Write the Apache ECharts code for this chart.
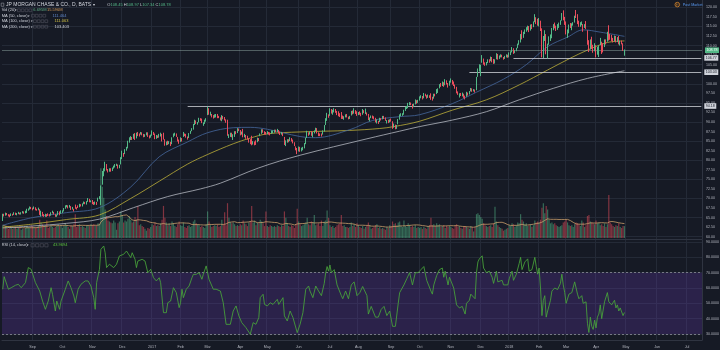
<!DOCTYPE html>
<html><head><meta charset="utf-8">
<script src="https://cdn.jsdelivr.net/npm/echarts@6/dist/echarts.min.js"></script>
<style>html,body{margin:0;padding:0;background:#161a25}#c{width:720px;height:350px}</style>
</head><body><div id="c"></div><script>
// ---- DATA (daily bars, Aug 3 2016 .. Apr 30 2018), each candle = [open, close, low, high]
const candles = [
// 2016-08
[64.3,65.8,64.1,66.0],[65.8,65.6,65.3,66.0],[65.7,66.0,65.5,66.3],[66.0,65.8,65.6,66.2],[65.8,65.5,65.3,65.9],[65.5,65.4,65.1,65.8],[65.5,65.9,65.4,66.1],[65.9,65.7,65.5,66.0],[65.8,66.2,65.7,66.4],[66.1,65.9,65.7,66.3],[65.9,66.0,65.6,66.2],[66.0,66.3,65.9,66.5],[66.2,66.0,65.8,66.3],[66.0,66.2,65.8,66.4],[66.3,66.4,66.1,66.7],[66.4,66.3,66.0,66.6],[66.3,66.5,66.1,66.8],[66.5,66.9,66.2,67.3],[66.9,67.2,66.8,67.4],[67.2,67.6,67.1,67.9],[67.6,67.5,67.2,67.8],
// 2016-09
[67.5,67.3,66.9,67.6],[67.4,67.6,67.2,67.9],[67.6,67.2,66.9,67.7],[67.2,67.0,66.8,67.3],[67.0,67.4,66.9,67.6],[67.1,65.8,65.7,67.2],[65.6,66.6,65.3,66.8],[66.4,65.6,65.4,66.5],[65.7,65.4,65.2,65.9],[65.4,65.9,65.2,66.0],[65.7,65.5,65.2,65.9],[65.7,65.6,65.4,66.1],[65.7,65.5,65.3,65.9],[65.7,66.2,65.5,66.4],[66.3,66.5,66.1,66.8],[66.4,66.0,65.8,66.5],[65.8,65.4,65.2,65.9],[65.4,65.6,65.2,65.8],[65.7,66.5,65.6,66.7],[66.4,65.9,65.6,66.6],[66.1,66.6,66.0,66.9],
// 2016-10
[66.5,66.6,66.2,66.9],[66.7,67.3,66.6,67.5],[67.4,68.0,67.3,68.2],[68.0,68.1,67.7,68.3],[68.1,67.6,67.4,68.2],[67.8,68.0,67.6,68.3],[67.9,67.2,67.0,68.0],[67.3,67.6,67.1,67.8],[67.2,67.0,66.6,67.3],[67.9,67.6,67.3,68.4],[67.5,67.3,67.1,67.7],[67.8,67.7,67.5,68.2],[67.8,68.4,67.7,68.6],[68.3,68.2,67.9,68.5],[68.1,68.5,67.9,68.7],[68.7,69.0,68.5,69.2],[69.0,68.7,68.5,69.1],[68.6,69.1,68.4,69.3],[69.2,69.6,69.1,70.1],[69.6,69.2,69.0,69.9],[69.3,69.3,69.0,69.5],
// 2016-11
[69.4,68.9,68.5,69.6],[68.9,68.6,68.3,69.1],[68.7,68.9,68.4,69.2],[68.9,68.6,68.3,69.1],[69.4,70.1,69.2,70.2],[70.0,70.3,69.8,70.6],[68.5,73.0,68.3,73.4],[73.8,76.0,73.6,77.2],[76.2,77.0,75.8,77.9],[77.4,78.9,77.1,79.6],[78.8,77.7,77.3,79.0],[77.5,77.2,76.8,77.7],[77.3,77.6,77.0,77.9],[77.7,77.4,77.0,77.9],[77.5,77.8,77.2,78.1],[78.0,78.3,77.8,78.6],[78.3,78.7,78.1,79.0],[78.8,78.9,78.5,79.1],[78.7,78.1,77.8,78.9],[78.2,78.6,77.9,78.8],[79.0,80.2,78.9,80.8],
// 2016-12
[80.5,81.9,80.3,82.5],[81.6,81.4,80.9,81.9],[81.8,82.6,81.6,82.9],[82.8,83.3,82.5,83.5],[83.3,84.9,83.1,85.1],[85.0,85.6,84.6,86.0],[85.7,86.1,85.3,86.3],[85.9,85.6,85.3,86.1],[85.8,86.5,85.6,86.9],[86.3,85.7,85.3,87.1],[85.9,86.8,85.7,87.2],[87.0,86.7,86.3,87.4],[86.7,86.6,86.2,87.0],[86.9,87.2,86.7,87.4],[87.1,86.8,86.5,87.3],[86.8,86.4,86.0,86.9],[86.4,86.6,86.1,86.8],[86.7,87.0,86.5,87.3],[87.1,86.3,86.1,87.3],[86.3,86.0,85.7,86.5],[86.1,86.3,85.9,86.7],
// 2017-01
[86.9,87.2,86.4,87.8],[87.3,87.0,86.6,87.4],[86.9,85.9,85.5,87.0],[86.0,86.3,85.6,86.6],[86.2,86.1,85.8,86.5],[86.0,86.6,85.9,86.9],[86.6,87.0,86.2,87.2],[86.8,85.5,84.9,86.9],[86.2,86.0,85.4,87.2],[85.4,84.0,83.8,85.5],[84.3,84.6,83.9,84.9],[84.7,84.3,84.0,85.1],[84.6,84.7,84.2,85.0],[84.5,84.1,83.7,84.8],[84.3,85.9,84.2,86.0],[86.2,86.8,86.0,87.0],[86.8,86.8,86.4,87.2],[86.8,86.4,86.1,87.0],[86.0,85.6,84.9,86.1],[85.3,84.6,84.3,85.4],
// 2017-02
[85.3,85.5,84.8,86.0],[85.4,85.4,84.9,85.8],[86.3,87.2,86.1,87.4],[86.9,86.6,86.3,87.0],[86.7,86.2,85.9,86.9],[86.0,85.7,85.4,86.2],[86.0,86.9,85.8,87.1],[87.1,87.5,86.9,87.7],[87.8,88.1,87.6,88.4],[88.2,89.3,88.0,89.5],[89.4,90.4,89.2,90.6],[90.3,89.9,89.5,90.4],[89.7,89.8,89.3,90.0],[90.1,90.9,89.9,91.1],[90.8,90.6,90.3,91.0],[90.7,90.0,89.7,90.9],[89.6,89.7,89.0,89.9],[89.7,90.4,89.5,90.6],[90.5,90.6,90.1,91.0],
// 2017-03
[91.9,93.4,91.8,94.0],[93.4,92.1,91.9,93.6],[92.2,92.4,91.7,92.7],[92.0,91.6,91.2,92.1],[91.6,91.3,90.9,91.8],[91.4,91.6,91.1,92.0],[91.6,91.7,91.2,92.1],[91.9,91.3,91.0,92.1],[91.4,91.3,91.0,91.6],[91.0,90.8,90.4,91.2],[90.9,91.2,90.2,91.8],[91.4,91.0,90.7,91.6],[91.1,90.6,90.4,91.3],[90.5,90.1,89.8,90.7],[90.4,86.6,86.4,90.6],[86.3,86.4,85.8,86.8],[86.5,86.7,86.1,87.2],[86.9,86.4,86.0,87.2],[85.6,86.5,85.3,86.8],[86.4,87.3,86.1,87.6],[87.3,87.1,86.8,87.6],[87.2,88.2,87.1,88.4],[88.1,87.8,87.6,88.3],
// 2017-04
[87.8,87.1,86.5,87.9],[86.9,87.3,86.7,87.5],[87.6,86.2,86.0,88.2],[86.3,86.6,86.0,86.9],[86.2,86.0,85.6,86.6],[86.1,85.8,85.4,86.4],[85.4,85.4,84.6,85.7],[85.3,84.5,84.2,85.5],[85.3,84.1,83.9,86.4],[84.3,84.8,84.1,85.0],[84.5,84.5,83.9,84.9],[84.8,84.4,84.0,85.2],[84.9,85.6,84.7,85.9],[85.6,85.3,85.0,85.8],[86.6,86.8,86.3,87.0],[87.0,87.9,86.9,88.1],[87.8,87.4,87.2,88.1],[87.4,87.1,86.7,87.6],[87.3,87.0,86.7,87.4],
// 2017-05
[87.2,87.3,86.8,87.6],[87.3,87.1,86.7,87.4],[87.1,86.9,86.5,87.3],[87.2,87.4,86.9,87.8],[87.4,87.6,87.1,87.8],[87.5,87.7,87.2,88.0],[87.8,87.7,87.3,88.0],[87.6,88.0,87.4,88.2],[87.8,87.4,87.0,87.9],[87.3,86.9,86.6,87.5],[87.0,87.1,86.7,87.4],[87.1,86.5,86.3,87.2],[86.0,84.2,84.0,86.1],[84.0,84.9,83.7,85.2],[85.0,85.1,84.6,85.5],[85.3,85.0,84.7,85.5],[85.2,85.8,85.0,86.0],[85.7,85.2,84.9,85.8],[85.3,84.7,84.4,85.4],[84.6,83.9,83.7,84.7],[83.5,82.9,82.6,83.6],[83.0,82.2,81.6,83.2],
// 2017-06
[82.4,83.5,82.3,83.6],[83.4,82.4,82.2,83.5],[82.5,83.0,82.3,83.3],[82.9,83.2,82.6,83.5],[83.3,84.2,83.1,84.5],[84.3,85.6,84.2,85.9],[86.0,87.2,85.8,87.7],[87.0,86.9,86.4,87.3],[87.0,87.3,86.7,87.5],[87.4,86.8,86.4,87.6],[86.5,87.2,86.0,87.4],[87.2,87.6,87.0,87.8],[87.8,88.3,87.6,88.5],[88.2,87.2,87.0,88.4],[87.1,86.6,86.3,87.3],[86.7,86.6,86.3,87.0],[86.8,86.5,86.2,87.0],[86.9,87.4,86.7,87.8],[87.6,88.9,87.5,89.2],[89.3,90.8,89.2,91.0],[91.0,91.8,90.3,92.4],[91.9,91.4,91.1,92.0],
// 2017-07
[91.7,93.1,91.6,93.6],[93.2,92.6,92.2,93.4],[92.3,92.6,91.9,93.2],[92.8,93.3,92.5,93.6],[93.2,92.8,92.4,93.4],[92.7,92.2,91.8,92.9],[92.4,91.9,91.5,92.8],[92.0,91.6,91.3,92.3],[92.3,91.4,90.8,92.6],[91.3,91.1,90.8,91.7],[90.9,91.3,90.6,91.5],[91.4,91.8,91.2,92.0],[91.9,91.5,91.2,92.1],[91.2,91.0,90.7,91.4],[91.0,91.4,90.8,91.6],[91.8,92.7,91.7,92.9],[92.8,92.3,92.0,93.0],[92.4,93.1,92.2,93.6],[92.8,92.5,92.1,93.1],[92.6,91.8,91.6,92.8],
// 2017-08
[92.0,92.4,91.8,92.6],[92.5,92.3,91.9,92.8],[92.2,91.7,91.5,92.4],[92.1,93.0,91.9,93.4],[92.9,92.6,92.3,93.1],[92.6,92.9,92.1,93.5],[92.3,92.2,91.7,92.5],[92.0,90.6,90.5,92.1],[90.7,90.7,90.2,91.2],[91.2,91.4,91.0,91.7],[91.5,91.2,90.9,91.7],[91.3,91.0,90.7,91.5],[90.9,90.0,89.9,91.1],[90.0,90.2,89.6,90.7],[90.2,89.9,89.5,90.3],[90.1,90.9,90.0,91.1],[90.8,90.7,90.4,91.0],[90.9,91.3,90.7,91.6],[91.4,91.1,90.8,91.6],[91.0,90.6,90.3,91.2],[90.2,90.3,89.6,90.5],[90.4,90.0,89.7,90.6],[90.2,90.4,89.9,90.7],
// 2017-09
[90.6,90.5,90.1,90.9],[90.1,88.5,88.2,90.2],[88.8,89.2,88.5,89.6],[89.1,88.4,88.1,89.3],[88.5,88.8,88.2,89.2],[89.5,90.6,89.4,90.8],[90.8,91.8,90.6,92.0],[91.8,92.0,91.5,92.3],[92.0,92.0,91.6,92.3],[92.3,93.0,91.9,93.2],[93.1,93.7,92.9,94.0],[93.8,93.8,93.4,94.2],[93.8,94.8,93.6,95.0],[94.8,95.0,94.4,95.2],[94.8,94.6,94.4,95.1],[94.5,93.9,93.5,94.7],[94.1,94.5,93.9,94.8],[94.8,95.6,94.6,95.9],[95.5,95.2,94.8,95.7],[95.3,95.5,95.0,95.8],
// 2017-10
[95.8,96.5,95.6,96.7],[96.6,96.7,96.2,97.0],[96.6,96.2,95.9,96.8],[96.4,97.4,96.2,97.6],[97.2,97.0,96.7,97.4],[96.8,96.4,96.1,97.0],[96.6,96.9,96.3,97.2],[96.8,96.7,96.3,97.0],[97.3,96.1,95.8,97.5],[96.4,95.9,95.6,96.6],[96.3,97.2,96.1,97.4],[97.2,97.1,96.7,97.4],[97.4,98.4,97.3,98.6],[98.0,98.6,97.6,98.8],[99.0,99.6,98.8,99.9],[99.8,99.5,99.2,100.2],[99.6,100.3,99.4,100.6],[100.2,99.7,99.2,100.4],[99.9,100.6,99.6,101.2],[100.6,100.1,99.8,100.9],[100.0,99.3,99.0,100.2],[99.6,100.6,99.5,100.8],
// 2017-11
[100.8,100.9,100.3,101.4],[100.7,100.3,99.8,101.0],[100.4,99.7,99.4,100.6],[99.6,99.1,98.7,99.8],[99.0,97.8,97.5,99.2],[97.7,97.6,97.1,98.0],[97.0,97.2,96.4,97.5],[97.3,97.1,96.8,97.6],[96.9,97.5,96.7,97.7],[97.2,96.8,96.3,97.4],[96.5,96.4,95.9,96.9],[96.8,97.6,96.6,97.9],[97.5,97.2,96.9,97.7],[97.4,97.9,97.2,98.1],[98.2,98.7,98.0,98.9],[98.5,98.1,97.9,98.8],[98.2,98.4,98.0,98.6],[98.3,98.0,97.7,98.5],[98.5,101.6,98.3,101.8],[102.0,103.5,101.8,104.0],[104.0,104.5,103.2,105.1],
// 2017-12
[103.9,104.5,102.0,105.0],[106.0,106.4,105.5,107.5],[106.2,105.4,105.0,106.6],[105.3,105.1,104.7,105.6],[105.0,105.3,104.8,105.7],[105.6,106.2,105.4,106.4],[106.2,105.9,105.5,106.4],[106.0,106.8,105.9,107.1],[106.8,105.9,105.6,107.0],[106.1,105.6,105.2,106.5],[105.8,106.1,105.3,106.4],[106.6,107.6,106.4,108.0],[107.5,106.6,106.3,107.8],[106.9,107.0,106.5,107.4],[107.1,107.4,106.9,107.7],[107.4,107.1,106.9,107.6],[106.8,106.7,106.3,107.0],[106.7,107.0,106.5,107.3],[107.1,107.5,106.9,107.7],[107.4,106.9,106.8,107.6],
// 2018-01
[107.6,108.0,106.9,108.2],[108.0,108.1,107.5,108.5],[108.3,109.0,108.2,109.6],[109.2,108.3,107.8,109.3],[108.2,108.5,108.0,108.8],[108.9,109.1,108.5,109.4],[109.4,110.3,109.3,110.5],[110.3,111.2,110.2,111.4],[111.7,112.7,110.8,113.0],[113.5,112.1,111.6,114.0],[112.5,113.4,112.0,113.6],[113.3,113.9,113.0,114.2],[114.0,114.5,113.6,114.8],[114.4,114.9,114.0,115.2],[115.0,113.8,113.5,115.1],[114.4,115.0,113.9,115.5],[115.3,114.8,114.3,115.6],[115.2,116.1,114.8,116.3],[116.4,117.6,116.1,118.2],[116.8,116.3,115.6,117.4],[116.5,115.7,115.2,117.0],
// 2018-02
[115.2,116.9,115.0,117.2],[116.3,114.3,113.8,116.5],[114.0,108.7,106.9,114.5],[107.2,111.9,106.7,112.5],[112.0,112.8,111.2,114.0],[112.6,107.9,107.7,113.0],[108.6,109.9,106.6,110.5],[110.6,111.9,110.2,112.4],[111.4,112.6,111.2,112.9],[112.2,114.4,111.9,114.6],[115.1,115.2,114.0,115.6],[115.0,114.9,114.5,116.0],[114.6,114.3,113.8,115.2],[114.6,114.6,114.1,115.6],[115.0,115.4,114.6,116.0],[115.8,116.3,115.4,116.6],[116.7,118.0,116.5,118.5],[118.1,116.8,116.6,119.2],[117.0,115.5,115.4,117.5],
// 2018-03
[115.6,113.4,112.9,116.3],[112.7,113.9,112.0,114.2],[113.6,115.2,113.2,115.5],[115.6,114.9,114.6,115.9],[114.3,115.6,114.0,115.8],[115.7,115.7,115.2,116.1],[116.2,117.6,116.0,117.8],[117.8,117.5,117.2,119.3],[117.9,116.0,115.6,118.2],[116.3,115.2,114.9,116.5],[115.4,115.6,114.9,116.1],[115.6,115.9,115.3,116.3],[115.4,114.7,113.6,115.6],[114.8,115.3,114.6,115.6],[115.2,115.0,114.3,116.4],[113.8,110.6,110.2,114.0],[110.7,108.6,108.3,111.4],[109.9,111.4,109.0,111.6],[111.8,109.4,109.1,112.3],[109.3,108.6,108.1,110.2],[109.0,110.0,108.5,110.6],
// 2018-04
[109.6,107.8,106.9,110.1],[108.3,109.4,107.6,109.7],[107.6,109.8,107.0,110.1],[110.6,111.3,110.1,112.0],[110.5,108.4,107.8,111.0],[109.1,108.5,108.2,110.6],[110.0,111.4,109.6,111.6],[111.0,110.8,110.3,111.6],[111.2,113.4,111.0,113.6],[114.5,111.9,111.3,115.3],[112.6,111.9,111.5,113.0],[112.4,111.7,111.2,112.8],[111.7,111.4,110.8,112.0],[111.3,112.0,111.1,112.6],[112.2,111.1,110.8,112.5],[111.4,111.6,110.9,112.2],[112.1,110.6,110.3,112.5],[110.6,110.9,110.0,111.3],[111.0,110.6,110.3,111.3],[110.4,109.0,108.6,110.6],[108.45,108.78,107.34,108.97]
];
// daily volume, millions of shares
const volumes = [
14,12,13,11,10,11,12,10,11,12,10,11,12,9,10,10,11,13,12,11,14,
13,12,11,12,13,20,17,15,13,14,19,11,12,14,12,11,12,13,15,13,14,
11,13,16,14,12,10,14,13,15,26,12,14,15,12,13,12,11,13,14,13,15,
14,15,13,14,16,15,76,56,44,31,24,19,18,17,16,19,17,9,16,18,29,
25,17,19,18,21,24,20,17,18,23,20,35,14,15,13,12,10,8,11,10,12,
15,14,17,13,14,13,16,20,35,22,17,14,16,13,18,16,13,12,15,18,
14,13,17,12,11,13,14,12,13,18,20,16,15,14,12,13,12,11,15,
29,18,14,12,13,14,13,15,12,13,20,15,28,14,38,22,17,16,17,15,13,14,13,
15,14,19,16,15,13,17,18,35,17,19,14,17,16,20,18,16,13,29,
13,12,14,13,12,13,12,14,13,12,14,13,29,22,16,13,12,14,13,11,15,32,
18,15,13,14,15,17,22,15,14,18,17,25,14,15,16,13,19,13,18,19,30,22,
14,12,13,11,12,14,15,16,25,13,14,12,12,11,12,17,13,15,12,16,
14,12,11,13,10,12,13,17,14,10,11,12,14,15,11,12,10,11,10,9,12,11,14,
13,18,15,16,14,17,18,13,12,19,13,12,16,14,12,13,12,14,11,12,
11,12,10,12,11,10,13,14,22,14,15,13,16,14,15,12,13,14,11,13,12,13,
12,11,10,13,15,12,13,11,10,12,13,12,11,10,13,12,7,12,26,27,25,
23,21,16,14,13,12,13,14,12,16,34,18,14,12,11,10,8,9,10,11,
14,13,16,15,12,14,17,16,26,20,18,15,16,13,14,15,12,14,19,17,18,
17,20,33,38,27,35,31,20,16,17,15,16,14,13,12,13,14,17,18,
20,17,14,13,14,12,15,17,16,15,13,19,17,12,14,24,25,18,17,16,15,
19,16,17,14,15,13,16,12,15,47,17,15,13,12,14,13,16,12,11,13,13
];
// moving averages: [bar index, value]
const ma50 = [[0,63.0],[21,65.0],[45,66.3],[68,67.6],[90,73.0],[110,80.9],[130,84.8],[144,87.2],[162,88.5],[174,88.6],[186,88.1],[209,86.2],[220,85.9],[244,88.0],[260,90.4],[279,91.4],[293,91.9],[316,94.8],[333,97.8],[352,101.2],[368,105.0],[383,109.7],[397,112.2],[408,114.1],[420,113.5],[437,112.4]];
const ma100 = [[0,62.5],[21,63.3],[45,64.5],[68,65.7],[90,70.0],[110,74.5],[130,79.0],[144,81.5],[162,84.3],[174,85.8],[186,86.9],[209,87.4],[244,87.8],[265,88.3],[275,88.8],[293,90.2],[316,93.1],[340,95.8],[363,99.7],[383,103.6],[399,106.7],[411,108.8],[425,110.8],[437,111.2]];
const ma200 = [[0,62.3],[21,62.8],[45,63.5],[68,64.6],[92,67.6],[116,70.5],[139,72.5],[153,74.0],[180,78.0],[209,81.3],[256,85.6],[279,87.6],[293,88.8],[316,90.5],[340,92.7],[363,95.8],[387,98.8],[411,101.4],[437,103.4]];
// RSI(14): [bar index, value]
const rsi = [[0,59.2],[1,67.4],[2,66.1],[4,59.2],[6,60.2],[9,61.8],[11,62.4],[13,60.2],[16,63.5],[18,73.3],[20,72.2],[21,71.1],[23,63.5],[26,58.0],[28,51.5],[30,46.1],[32,51.5],[34,60.2],[35,55.9],[37,45.0],[38,51.5],[40,46.1],[41,51.5],[44,59.2],[46,64.6],[48,60.2],[50,54.8],[51,50.4],[53,59.2],[55,62.4],[58,64.6],[60,64.6],[62,61.3],[64,53.7],[65,46.1],[66,63.5],[68,72.2],[69,85.2],[71,87.4],[72,83.0],[73,73.3],[75,75.5],[78,73.3],[80,75.5],[82,80.9],[85,82.0],[87,84.1],[88,83.0],[90,79.8],[91,83.0],[93,78.7],[94,73.3],[95,77.6],[98,78.7],[100,77.6],[102,70.0],[104,72.2],[106,66.7],[108,64.6],[110,66.7],[111,63.5],[113,43.9],[115,43.9],[116,50.4],[118,51.5],[120,60.2],[122,57.0],[124,47.2],[125,50.4],[126,59.2],[127,53.7],[129,59.2],[131,61.3],[133,66.7],[134,68.9],[136,68.9],[138,70.0],[140,65.7],[141,68.9],[143,74.4],[145,65.7],[146,64.6],[148,59.2],[150,59.2],[153,58.0],[155,50.4],[157,36.3],[160,36.3],[162,45.0],[164,48.3],[166,41.8],[168,37.4],[171,34.1],[174,29.8],[176,37.4],[178,36.3],[180,40.7],[181,53.7],[183,55.9],[184,49.3],[186,48.3],[188,50.4],[190,49.3],[191,50.4],[193,52.6],[194,49.3],[197,53.7],[198,41.8],[200,38.5],[202,45.0],[204,40.7],[207,30.9],[209,36.3],[211,43.9],[213,59.2],[215,61.3],[216,58.0],[218,53.7],[220,61.3],[222,58.0],[223,56.9],
[224,55],[226,63],[227,70],[228,74],[229,71],[230,75],[231,70],[233,72],[235,62],[238,55],[239,53],[241,58],[243,53],[245,62],[247,64],[249,55],[251,57],[253,61],[256,55],[257,43],[259,48],[262,41],[264,41],[266,46],[268,48],[270,42],[272,45],[274,35],[276,35],[278,50],[279,57],[282,62],[284,66],[286,70],[288,62],[290,70],[292,70],[294,72],[296,74],[298,65],[301,58],[302,56],[303,62],[305,68],[307,72],[309,73],[310,67],[311,71],[313,62],[314,67],[315,67],[317,60],[319,49],[321,47],[323,48],[325,43],[326,50],[328,52],[329,56],[332,53],[333,70],[334,77],[335,79],[337,81],[338,73],[340,70],[342,71],[344,67],[345,63],[347,71],[348,64],[351,65],[352,62],[355,62],[356,66],[358,71],[359,65],[361,69],[363,76],[364,80],[365,72],[367,77],[369,79],[370,71],[372,72],[374,80],[375,74],[376,69],[377,73],[378,60],[379,42],[380,52],[381,55],[382,41],[383,45],[385,52],[386,58],[388,60],[390,59],[392,63],[393,69],[394,62],[395,57],[396,50],[398,56],[400,57],[402,64],[403,63],[404,56],[405,53],[407,55],[408,50],[410,51],[411,37],[412,31],[413,41],[414,35],[415,33],[416,39],[417,34],[418,41],[419,43],[420,49],[421,40],[422,41],[423,51],[424,50],[425,57],[426,51],[427,50],[428,49],[429,48],[430,52],[431,47],[432,49],[433,45],[434,47],[435,46],[436,42],[437,44.0]];
// time axis tick labels at first trading day of each month: [bar index, label]
const monthTicks = [[21,'Sep'],[42,'Oct'],[63,'Nov'],[84,'Dec'],[105,'2017'],[125,'Feb'],[144,'Mar'],[167,'Apr'],[186,'May'],[208,'Jun'],[230,'Jul'],[250,'Aug'],[273,'Sep'],[293,'Oct'],[315,'Nov'],[336,'Dec'],[356,'2018'],[377,'Feb'],[396,'Mar'],[417,'Apr'],[438,'May'],[460,'Jun'],[481,'Jul']];
// horizontal drawn levels: [start bar index, price]
const levels = [[130,94.18],[328,103.03],[359,106.77]];
const lastPrice = 108.78;
const futureBars = 54;

// ---- CHART
const UP='#53b987', DOWN='#eb4d5c', GRID='#242a37', AX='#2f3441', TXT='#b2b5be', LBL='#d1d4dc';
const FONT='"Liberation Sans", Arial, sans-serif';
const N = candles.length + futureBars;
const cats = Array.from({length:N}, (_,i)=>String(i));
const monthAt = {}; monthTicks.forEach(([i,l])=>{monthAt[i]=l;});
const isMonth = (i)=> monthAt[i] !== undefined;
const volMA = volumes.map((v,i)=>{const s=Math.max(0,i-19);let t=0;for(let k=s;k<=i;k++)t+=volumes[k];return +(t/(i-s+1)).toFixed(2);});
const volData = volumes.map((v,i)=>({value:v,itemStyle:{color:candles[i][1]>=candles[i][0]?'rgba(83,185,135,0.5)':'rgba(235,77,92,0.5)'}}));

const gridBase = {left:2, width:700, containLabel:false, outerBoundsMode:'none'};
const grids = [
  Object.assign({top:0, height:239}, gridBase),
  Object.assign({top:7.3, height:229.4}, gridBase),
  Object.assign({top:150, height:88}, gridBase),
  Object.assign({top:240, height:100}, gridBase),
  Object.assign({top:242, height:92}, gridBase)
];
function xAx(g, extra){
  return Object.assign({type:'category', gridIndex:g, data:cats, boundaryGap:true,
    axisLine:{show:false}, axisTick:{show:false}, axisLabel:{show:false}, splitLine:{show:false}}, extra||{});
}
const vSplit = {show:true, interval:(i)=>isMonth(i), lineStyle:{color:GRID, width:1}};
const xAxes = [
  xAx(0,{axisLine:{show:true,onZero:false,lineStyle:{color:AX}}, splitLine:vSplit}),
  xAx(1),
  xAx(2),
  xAx(3,{axisLine:{show:true,onZero:false,lineStyle:{color:AX}}, splitLine:vSplit,
    axisLabel:{show:true, interval:(i)=>isMonth(i), formatter:(v,i)=>monthAt[i]||'', color:TXT, fontSize:3.7, fontFamily:FONT, margin:5}}),
  xAx(4)
];
const hid = {axisLine:{show:false}, axisTick:{show:false}, axisLabel:{show:false}, splitLine:{show:false}};
const yAxes = [
  Object.assign({type:'value', gridIndex:0, position:'right', min:0, max:1}, hid, {axisLine:{show:true,onZero:false,lineStyle:{color:AX}}}),
  Object.assign({type:'value', gridIndex:1, position:'right', min:60, max:120, interval:2.5}, hid,
    {axisLabel:{show:true, formatter:(v)=>v.toFixed(2), color:TXT, fontSize:3.6, fontFamily:FONT, margin:4, showMinLabel:true, showMaxLabel:true}}),
  Object.assign({type:'value', gridIndex:1, position:'left', min:60, max:120, interval:5}, hid,
    {splitLine:{show:true, lineStyle:{color:GRID, width:1}}}),
  Object.assign({type:'value', gridIndex:2, min:0, max:96}, hid),
  Object.assign({type:'value', gridIndex:3, position:'right', min:0, max:1}, hid, {axisLine:{show:true,onZero:false,lineStyle:{color:AX}}}),
  Object.assign({type:'value', gridIndex:4, position:'right', min:30, max:90, interval:10}, hid,
    {axisLabel:{show:true, formatter:(v)=>v.toFixed(4), color:TXT, fontSize:3.6, fontFamily:FONT, margin:4},
     splitLine:{show:true, lineStyle:{color:GRID, width:1}}})
];
const boxLabel = (bg, fg)=>({show:true, position:'end', distance:3, formatter:'{b}', backgroundColor:bg, color:fg, fontSize:3.6, fontFamily:FONT, padding:[1,1.5,0.6,1.5]});
const levelLines = levels.map(([from,v])=>[
  {coord:[from,v], name:v.toFixed(2), lineStyle:{color:'rgba(214,217,224,0.85)', width:0.9, type:'solid'}, label:boxLabel('#d1d4dc','#131722')},
  {coord:[N-1,v]}
]);
const maLine = (data,color)=>({type:'line', xAxisIndex:1, yAxisIndex:1, data, smooth:0.35, showSymbol:false, symbol:'none', silent:true, z:4,
  lineStyle:{color, width:0.8}});

const option = {
  animation:false, backgroundColor:'#161a25',
  textStyle:{fontFamily:FONT},
  grid:grids, xAxis:xAxes, yAxis:yAxes,
  series:[
    {type:'bar', xAxisIndex:2, yAxisIndex:3, data:volData, barWidth:'85%', silent:true, z:1},
    {type:'line', xAxisIndex:2, yAxisIndex:3, data:volMA, showSymbol:false, symbol:'none', silent:true, z:2, lineStyle:{color:'#c99d6a', width:0.8}},
    maLine(ma200,'#b4b7c0'),
    maLine(ma100,'#bcae38'),
    maLine(ma50,'#45679d'),
    {type:'candlestick', xAxisIndex:1, yAxisIndex:1, data:candles, barWidth:1, silent:true, z:5,
      itemStyle:{color:UP, color0:DOWN, borderColor:UP, borderColor0:DOWN, borderWidth:1},
      markLine:{silent:true, symbol:['none','none'], animation:false,
        data: levelLines.concat([
          {yAxis:lastPrice, name:lastPrice.toFixed(2), lineStyle:{color:'rgba(170,200,190,0.5)', width:0.8, type:'solid'}, label:boxLabel(UP,'#ffffff')}
        ])}
    },
    {type:'line', xAxisIndex:4, yAxisIndex:5, data:rsi, showSymbol:false, symbol:'none', silent:true, clip:false, z:5,
      lineStyle:{color:'#48a53a', width:0.85},
      markArea:{silent:true, itemStyle:{color:'rgba(103,58,183,0.26)'}, data:[[{yAxis:30},{yAxis:70}]]},
      markLine:{silent:true, symbol:['none','none'], label:{show:false},
        lineStyle:{color:'#8c8f9a', width:0.8, type:[2,2]}, data:[{yAxis:70},{yAxis:30}]}
    }
  ]
};

function txt(x,y,text,color,size){
  return {type:'text', x, y, silent:true, z:100, style:{text, fill:color, font:size+'px '+FONT, verticalAlign:'middle', textVerticalAlign:'middle'}};
}
function boxes(x,y,step,size){
  const out=[];
  for(let k=0;k<4;k++) out.push({type:'rect', silent:true, z:100, shape:{x:x+k*step, y:y-size/2, width:size, height:size},
    style:{fill:'none', stroke:'#50535e', lineWidth:0.6}});
  return out;
}
function buildHeader(){
  const g=[];
  g.push({type:'rect', silent:true, z:100, shape:{x:1.2,y:3.1,width:2.6,height:3.2}, style:{fill:'none',stroke:'#9598a1',lineWidth:0.6}});
  g.push(txt(6,4.8,'JP MORGAN CHASE & CO., D, BATS',LBL,5));
  g.push(txt(92.5,4.8,'\u25BE',LBL,4));
  g.push({type:'text', x:107.3, y:4.8, silent:true, z:100, style:{
    text:'{a|O}{b|108.45} {a|H}{b|108.97} {a|L}{b|107.34} {a|C}{b|108.78}',
    font:'4px '+FONT, verticalAlign:'middle', textVerticalAlign:'middle', fill:LBL,
    rich:{a:{fill:LBL, fontSize:4, fontFamily:FONT}, b:{fill:UP, fontSize:4, fontFamily:FONT}}}});
  g.push(txt(1.7,10.3,'Vol (20)',LBL,4)); g.push(txt(14.6,10.3,'\u25BE',LBL,3.4));
  g.push(...boxes(17.5,10.3,3.8,2.8));
  g.push(txt(33.3,10.3,'6.695M','#5fae84',4)); g.push(txt(47,10.3,'15.596M','#d39a57',4));
  g.push(txt(1.7,15.7,'MA (50, close)',LBL,4)); g.push(txt(28.4,15.7,'\u25BE',LBL,3.4));
  g.push(...boxes(31.5,15.7,3.8,2.8)); g.push(txt(52.5,15.7,'111.464','#5f86c8',4));
  g.push(txt(1.7,21.2,'MA (100, close)',LBL,4)); g.push(txt(30.6,21.2,'\u25BE',LBL,3.4));
  g.push(...boxes(33.5,21.2,3.8,2.8)); g.push(txt(54.5,21.2,'111.063','#d2c144',4));
  g.push(txt(1.7,26.7,'MA (200, close)',LBL,4)); g.push(txt(30.6,26.7,'\u25BE',LBL,3.4));
  g.push(...boxes(33.5,26.7,3.8,2.8)); g.push(txt(54.5,26.7,'103.403',LBL,4));
  g.push(txt(1.7,245.3,'RSI (14, close)',LBL,3.9)); g.push(txt(27.3,245.3,'\u25BE',LBL,3.4));
  g.push(...boxes(31,245.3,4.6,3.2)); g.push(txt(53,245.3,'43.9694','#5bc43c',4));
  g.push({type:'circle', silent:true, z:100, shape:{cx:677.3,cy:4.6,r:2.3}, style:{fill:'none',stroke:'#f0932b',lineWidth:0.7}});
  g.push({type:'rect', silent:true, z:100, shape:{x:676.5,y:3.6,width:0.5,height:2}, style:{fill:'#f0932b'}});
  g.push({type:'rect', silent:true, z:100, shape:{x:677.7,y:3.6,width:0.5,height:2}, style:{fill:'#f0932b'}});
  g.push(txt(682.8,4.6,'Post Market','#5b9cf6',3.7));
  return g;
}
option.graphic = buildHeader();
const chart = echarts.init(document.getElementById('c'), null, {renderer:'canvas'});
chart.setOption(option);
</script></body></html>
